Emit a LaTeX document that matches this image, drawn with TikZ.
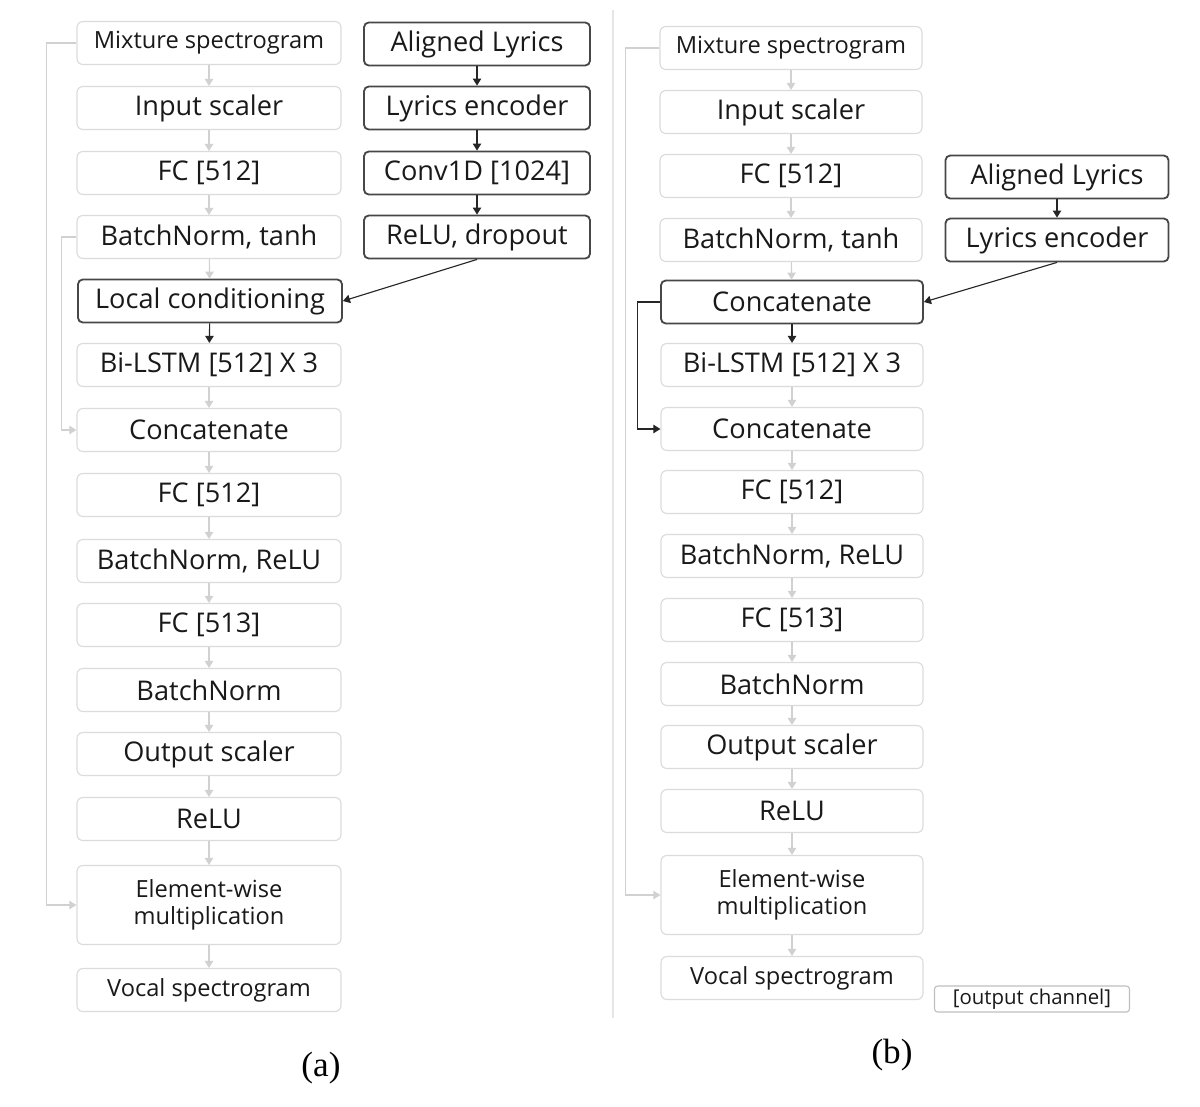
\documentclass[tikz,border=0pt]{standalone}
\usepackage{fontspec}
\setmainfont{Liberation Serif}
\newfontfamily\boxfont{Open Sans}
\usetikzlibrary{arrows.meta,positioning}

\tikzset{
  lightbox/.style={draw=black!14, line width=0.8pt, rounded corners=0.15cm, text=black!90,
    font=\boxfont\fontsize{19.3}{22}\selectfont, minimum height=1.075cm, inner sep=0pt},
  darkbox/.style={lightbox, draw=black!72, line width=1.3pt, rounded corners=0.12cm},
  smalltext/.style={font=\boxfont\fontsize{16.8}{19.5}\selectfont},
  cola/.style={minimum width=6.6cm},
  colar/.style={minimum width=5.65cm},
  colb/.style={minimum width=6.55cm},
  colbr/.style={minimum width=5.575cm},
  lightarrow/.style={draw=black!18, line width=0.8pt, -{Triangle[width=6pt,length=5pt]}},
  darkarrow/.style={draw=black!85, line width=0.8pt, -{Triangle[width=6pt,length=5pt]}},
}

\begin{document}
\begin{tikzpicture}[x=0.025cm, y=-0.025cm]
  %%%%% START %%%%%
  \useasboundingbox (0,0) rectangle (1200,1106);

  \draw[black!10, line width=0.8pt] (613,10) -- (613,1018);

  % (a) main column
  \node[lightbox, smalltext, cola] (mix-a) at (209,43) {Mixture spectrogram};
  \node[lightbox, cola] (in-a) at (209,108) {Input scaler};
  \node[lightbox, cola] (fc1-a) at (209,173) {FC [512]};
  \node[lightbox, cola] (bnt-a) at (209,237) {BatchNorm, tanh};
  \node[darkbox, cola] (loc-a) at (210,301) {Local conditioning};
  \node[lightbox, cola] (lstm-a) at (209,365) {Bi-LSTM [512] X 3};
  \node[lightbox, cola] (cat-a) at (209,430) {Concatenate};
  \node[lightbox, cola] (fc2-a) at (209,495) {FC [512]};
  \node[lightbox, cola] (bnr-a) at (209,561) {BatchNorm, ReLU};
  \node[lightbox, cola] (fc3-a) at (209,625) {FC [513]};
  \node[lightbox, cola] (bn-a) at (209,690) {BatchNorm};
  \node[lightbox, cola] (out-a) at (209,754) {Output scaler};
  \node[lightbox, cola] (relu-a) at (209,819) {ReLU};
  \node[lightbox, smalltext, cola, minimum height=1.975cm, align=center] (ew-a) at (209,905) {Element-wise\\multiplication};
  \node[lightbox, smalltext, cola] (voc-a) at (209,990) {Vocal spectrogram};

  % (a) lyrics column
  \node[darkbox, colar] (al-a) at (477,44) {Aligned Lyrics};
  \node[darkbox, colar] (le-a) at (477,108) {Lyrics encoder};
  \node[darkbox, colar] (conv-a) at (477,173) {Conv1D [1024]};
  \node[darkbox, colar] (rd-a) at (477,237) {ReLU, dropout};

  \foreach \u/\v in {mix-a/in-a, in-a/fc1-a, fc1-a/bnt-a, bnt-a/loc-a, lstm-a/cat-a, cat-a/fc2-a,
      fc2-a/bnr-a, bnr-a/fc3-a, fc3-a/bn-a, bn-a/out-a, out-a/relu-a, relu-a/ew-a, ew-a/voc-a}
    \draw[lightarrow] (\u) -- (\v);
  \foreach \u/\v in {loc-a/lstm-a, al-a/le-a, le-a/conv-a, conv-a/rd-a}
    \draw[darkarrow] (\u) -- (\v);
  \draw[darkarrow] (rd-a.south) -- (loc-a.east);

  \draw[lightarrow] (mix-a.west) -- ++(-30,0) |- (ew-a.west);
  \draw[lightarrow] (bnt-a.west) -- ++(-15,0) |- (cat-a.west);

  % (b) main column
  \node[lightbox, smalltext, colb] (mix-b) at (791,48) {Mixture spectrogram};
  \node[lightbox, colb] (in-b) at (791,112) {Input scaler};
  \node[lightbox, colb] (fc1-b) at (791,176) {FC [512]};
  \node[lightbox, colb] (bnt-b) at (791,240) {BatchNorm, tanh};
  \node[darkbox, colb] (cat1-b) at (792,302) {Concatenate};
  \node[lightbox, colb] (lstm-b) at (792,365) {Bi-LSTM [512] X 3};
  \node[lightbox, colb] (cat2-b) at (792,429) {Concatenate};
  \node[lightbox, colb] (fc2-b) at (792,492) {FC [512]};
  \node[lightbox, colb] (bnr-b) at (792,556) {BatchNorm, ReLU};
  \node[lightbox, colb] (fc3-b) at (792,620) {FC [513]};
  \node[lightbox, colb] (bn-b) at (792,684) {BatchNorm};
  \node[lightbox, colb] (out-b) at (792,747) {Output scaler};
  \node[lightbox, colb] (relu-b) at (792,811) {ReLU};
  \node[lightbox, smalltext, colb, minimum height=1.975cm, align=center] (ew-b) at (792,895) {Element-wise\\multiplication};
  \node[lightbox, smalltext, colb] (voc-b) at (792,978) {Vocal spectrogram};
  \node[lightbox, draw=black!25, font=\boxfont\fontsize{14.5}{17}\selectfont, minimum width=4.875cm,
    minimum height=0.65cm, rounded corners=0.08cm] (och-b) at (1032,999) {[output channel]};

  % (b) lyrics column
  \node[darkbox, colbr] (al-b) at (1057,177) {Aligned Lyrics};
  \node[darkbox, colbr] (le-b) at (1057,240) {Lyrics encoder};

  \foreach \u/\v in {mix-b/in-b, in-b/fc1-b, fc1-b/bnt-b, bnt-b/cat1-b, lstm-b/cat2-b, cat2-b/fc2-b,
      fc2-b/bnr-b, bnr-b/fc3-b, fc3-b/bn-b, bn-b/out-b, out-b/relu-b, relu-b/ew-b, ew-b/voc-b}
    \draw[lightarrow] (\u) -- (\v);
  \foreach \u/\v in {cat1-b/lstm-b, al-b/le-b}
    \draw[darkarrow] (\u) -- (\v);
  \draw[darkarrow] (le-b.south) -- (cat1-b.east);

  \draw[lightarrow] (mix-b.west) -- ++(-34,0) |- (ew-b.west);
  \draw[darkarrow] (cat1-b.west) -- ++(-23,0) |- (cat2-b.west);

  % captions
  \node[font=\fontsize{25}{30}\selectfont] (cap-a) at (321,1068) {(a)};
  \node[font=\fontsize{25}{30}\selectfont] (cap-b) at (892,1055) {(b)};
  %%%%% END %%%%%
\end{tikzpicture}
\end{document}
